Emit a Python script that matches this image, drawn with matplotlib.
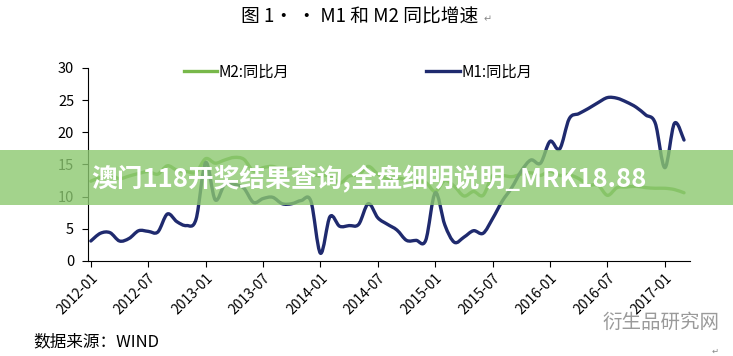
import matplotlib
matplotlib.use("Agg")
import matplotlib.pyplot as plt
from matplotlib.patches import Rectangle, PathPatch
from matplotlib.path import Path
from matplotlib.lines import Line2D
import numpy as np

plt.rcParams['font.family'] = ['Noto Sans CJK SC', 'DejaVu Sans']

# monthly data, 2012-01 .. 2017-03
m1 = [3.1, 4.3, 4.4, 3.1, 3.5, 4.7, 4.6, 4.5, 7.3, 6.1, 5.5, 6.5,
      15.3, 9.5, 11.9, 11.9, 11.3, 9.1, 9.7, 9.9, 8.9, 8.9, 9.4, 9.3,
      1.2, 6.9, 5.4, 5.5, 5.7, 8.9, 6.7, 5.7, 4.8, 3.2, 3.2, 3.2,
      10.6, 5.6, 2.9, 3.7, 4.7, 4.3, 6.6, 9.3, 11.4, 14.0, 15.7, 15.2,
      18.6, 17.4, 22.1, 22.9, 23.7, 24.6, 25.4, 25.3, 24.7, 23.9, 22.7, 21.4,
      14.5, 21.4, 18.8]
m2 = [12.4, 13.0, 13.4, 12.8, 13.2, 13.6, 13.9, 13.5, 14.8, 14.1, 13.9, 13.8,
      15.9, 15.2, 15.7, 16.1, 15.8, 14.0, 14.5, 14.7, 14.2, 14.3, 14.2, 13.6,
      13.2, 13.3, 12.1, 13.2, 13.4, 14.7, 13.5, 12.8, 12.9, 12.6, 12.3, 12.2,
      10.8, 12.5, 11.6, 10.1, 10.8, 10.2, 13.3, 13.3, 13.1, 13.5, 13.7, 13.3,
      14.0, 13.3, 13.4, 12.8, 11.8, 11.8, 10.2, 11.4, 11.5, 11.6, 11.4, 11.3,
      11.3, 11.1, 10.6]
tick_labels = ['2012-01', '2012-07', '2013-01', '2013-07', '2014-01', '2014-07',
               '2015-01', '2015-07', '2016-01', '2016-07', '2017-01']
yticks = [0, 5, 10, 15, 20, 25, 30]

C_M1 = '#1f2a6e'
C_M2 = '#78b84a'


def smooth_path(xs, ys):
    # excel-style smoothed line: bezier segments through the data points
    p = np.column_stack([xs, ys]).astype(float)
    n = len(p)
    verts = [p[0]]
    codes = [Path.MOVETO]
    for i in range(n - 1):
        p0 = p[i - 1] if i > 0 else p[i]
        p3 = p[i + 2] if i + 2 < n else p[i + 1]
        c1 = p[i] + (p[i + 1] - p0) / 6.0
        c2 = p[i + 1] - (p3 - p[i]) / 6.0
        verts += [c1, c2, p[i + 1]]
        codes += [Path.CURVE4] * 3
    return Path(verts, codes)


x = np.arange(len(m1))

fig = plt.figure(figsize=(7.33, 3.56), dpi=100)
ax = fig.add_axes([0.120, 0.267, 0.821, 0.542])

for ys, col in [(m2, C_M2), (m1, C_M1)]:
    ax.add_patch(PathPatch(smooth_path(x, ys), fill=False, edgecolor=col, lw=2.4,
                           joinstyle='round', capstyle='round'))

ax.set_xlim(-0.3, 62.6)
ax.set_ylim(0, 30)
ax.set_yticks(yticks)
ax.set_xticks(np.arange(0, 61, 6))
ax.set_xticklabels(tick_labels, rotation=45, ha='right', rotation_mode='anchor', fontsize=10)
ax.tick_params(axis='y', labelsize=10.5, length=4, width=0.8, pad=6)
ax.tick_params(axis='x', length=4, width=0.8, pad=3)
for s in ['top', 'right']:
    ax.spines[s].set_visible(False)

# legend entries placed like the source
fig.legend([Line2D([], [], color=C_M2, lw=2.4)], ['M2:同比月'], loc='center left',
           bbox_to_anchor=(0.232, 0.797), frameon=False, fontsize=11,
           handlelength=2.2, handletextpad=0.1)
fig.legend([Line2D([], [], color=C_M1, lw=2.4)], ['M1:同比月'], loc='center left',
           bbox_to_anchor=(0.563, 0.797), frameon=False, fontsize=11,
           handlelength=2.2, handletextpad=0.1)

fig.text(0.49, 0.952, '图 1· · M1 和 M2 同比增速', ha='center', va='center', fontsize=13.5)
fig.text(0.66, 0.945, '↵', ha='left', va='center', fontsize=7, color='#888888')
fig.text(0.045, 0.04, '数据来源：WIND', ha='left', va='center', fontsize=12)
fig.text(0.822, 0.095, '衍生品研究网', ha='left', va='center', fontsize=14, color='#9a9a9a')
fig.text(0.975, 0.012, '↵', ha='center', va='center', fontsize=6, color='#888888')

# overlay banner
fig.patches.append(Rectangle((0, 0.424), 1, 0.155, transform=fig.transFigure,
                             facecolor='#8cc870', alpha=0.8, edgecolor='none', zorder=5))
fig.text(0.125, 0.497, '澳门118开奖结果查询,全盘细明说明_MRK18.88', ha='left', va='center',
         fontsize=18.5, fontweight='heavy', color='white', zorder=6)

fig.savefig('out.png', dpi=100)
